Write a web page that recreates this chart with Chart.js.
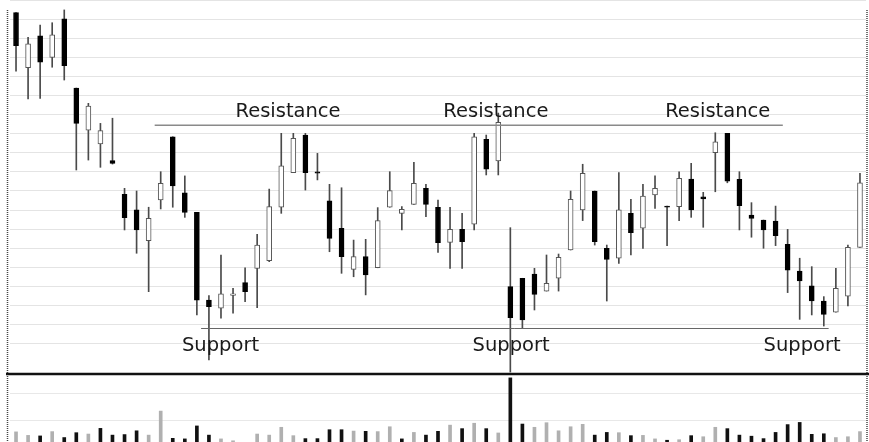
<!DOCTYPE html>
<html>
<head>
<meta charset="utf-8">
<title>Support and Resistance</title>
<script src="https://cdn.jsdelivr.net/npm/chart.js@4.4.1/dist/chart.umd.min.js"></script>
<style>
  html, body { margin: 0; padding: 0; background: #fff; overflow: hidden; }
  #wrap { position: relative; width: 869px; height: 442px; }
  #priceChart { position: absolute; left: 0; top: 0; }
  #volumeChart { position: absolute; left: 0; top: 376px; }
</style>
</head>
<body>
<div id="wrap">
  <canvas id="priceChart" width="869" height="376"></canvas>
  <canvas id="volumeChart" width="869" height="66"></canvas>
</div>
<script>
// Session numbers (x axis, not shown)
var days = [];
for (var d = 1; d <= 71; d++) { days.push(d); }

// Candles
var opens = [193.4, 164.6, 181.3, 170.0, 190.1, 153.9, 131.9, 124.6, 115.9, 98.3,
  90.1, 74.0, 95.3, 128.4, 99.1, 88.8, 42.9, 38.6, 45.3, 52.0,
  59.5, 63.5, 91.5, 109.6, 129.3, 110.1, 94.8, 80.5, 59.0, 65.6,
  59.8, 91.5, 88.3, 93.0, 101.4, 91.5, 73.1, 79.9, 82.6, 127.1,
  115.7, 49.9, 54.3, 56.5, 47.6, 54.3, 69.1, 90.1, 100.0, 70.0,
  64.8, 88.3, 80.5, 97.9, 92.1, 91.8, 106.3, 97.0, 120.1, 130.2,
  106.1, 87.4, 84.8, 84.3, 72.1, 58.1, 50.3, 42.4, 36.5, 45.0,
  70.5];
var highs = [193.4, 180.5, 186.9, 188.1, 194.8, 153.9, 145.9, 135.4, 138.1, 101.4,
  100.0, 91.5, 110.1, 128.4, 107.9, 88.8, 45.2, 66.5, 49.1, 59.8,
  77.3, 101.0, 130.2, 130.2, 130.2, 119.7, 103.5, 101.7, 74.3, 74.7,
  91.3, 110.1, 91.8, 115.0, 103.5, 95.3, 91.5, 88.3, 130.2, 129.3,
  140.8, 80.8, 54.3, 59.5, 66.5, 67.0, 100.0, 114.0, 100.0, 71.7,
  109.6, 95.7, 103.5, 108.0, 92.1, 110.1, 114.5, 99.3, 130.5, 130.2,
  110.1, 93.9, 84.8, 92.1, 79.9, 64.8, 60.4, 44.7, 59.5, 71.7,
  109.3];
var lows = [162.8, 148.2, 148.5, 164.8, 158.1, 111.0, 116.2, 112.4, 114.1, 79.6,
  67.4, 47.3, 90.6, 91.5, 86.2, 35.1, 11.5, 33.4, 36.0, 42.0,
  38.9, 63.0, 88.3, 109.6, 100.5, 105.8, 68.2, 56.9, 55.1, 45.6,
  59.8, 91.5, 79.6, 93.0, 86.5, 67.9, 59.5, 59.5, 79.6, 108.4,
  108.4, 5.2, 28.1, 37.7, 47.6, 47.6, 69.1, 84.5, 71.7, 42.4,
  62.1, 66.5, 70.0, 90.9, 71.4, 84.5, 86.2, 81.0, 99.6, 104.3,
  79.6, 75.8, 70.0, 71.4, 46.8, 32.8, 35.1, 29.3, 36.5, 39.8,
  70.5];
var closes = [176.1, 177.0, 167.5, 181.8, 165.6, 135.4, 144.5, 131.6, 114.5, 86.0,
  79.6, 85.7, 104.0, 102.6, 88.8, 42.9, 39.4, 46.1, 46.2, 47.3,
  71.7, 91.8, 113.2, 127.6, 109.6, 109.3, 75.2, 65.6, 65.6, 56.0,
  84.5, 100.2, 90.4, 104.0, 93.0, 72.9, 79.9, 73.5, 128.4, 111.4,
  136.0, 33.7, 32.5, 45.9, 51.7, 65.3, 95.7, 109.3, 73.5, 64.2,
  90.1, 78.2, 97.4, 101.4, 91.5, 106.6, 90.1, 95.8, 125.8, 105.2,
  92.3, 85.7, 79.6, 76.6, 58.6, 52.9, 42.4, 35.4, 49.1, 70.5,
  104.3];
var volumes = [5.6, 4.3, 4.1, 5.7, 3.5, 5.3, 4.8, 6.9, 4.4, 4.6,
  6.0, 4.4, 13.3, 3.2, 3.0, 7.8, 4.4, 3.0, 2.3, 1.5,
  4.8, 4.4, 7.3, 4.2, 3.1, 3.1, 6.4, 6.4, 5.9, 5.8,
  5.7, 7.5, 3.0, 5.4, 4.4, 5.8, 8.1, 6.8, 8.8, 6.8,
  5.2, 25.6, 8.5, 7.3, 9.0, 6.0, 7.5, 8.4, 4.4, 5.4,
  5.3, 4.2, 4.3, 3.0, 2.5, 2.7, 4.2, 3.8, 7.3, 6.8,
  4.4, 4.0, 3.1, 5.4, 8.3, 9.1, 4.7, 4.9, 3.5, 3.8,
  5.7];

// Support / resistance levels and where they run (session index)
var resistanceLevel = 134.4;
var resistanceFrom = 11.5, resistanceTo = 63.6;
var supportLevel = 28.3;
var supportFrom = 15.35, supportTo = 67.4;
var resistanceLabels = [22.56, 39.8, 58.2];
var supportLabels = [16.96, 41.06, 65.2];
var resistanceTextY = 139.0, supportTextY = 16.2;

// Candle helpers
function isDown(i) { return closes[i] < opens[i]; }
function volDown(i) { return i > 0 && closes[i] < closes[i - 1]; }

var bodies = opens.map(function (o, i) { return [o, closes[i]]; });
var wicks = lows.map(function (l, i) { return [l, highs[i]]; });

// Frame, separator and the support/resistance marks
var decor = {
  id: 'decor',
  afterDatasetsDraw: function (chart) {
    var ctx = chart.ctx, x = chart.scales.x, y = chart.scales.y, area = chart.chartArea;
    var isPrice = chart.canvas.id === 'priceChart';
    ctx.save();
    // dotted frame
    ctx.strokeStyle = '#444';
    ctx.lineWidth = 1.5;
    ctx.setLineDash([1, 1]);
    var top = isPrice ? 10 : 0;
    ctx.beginPath();
    ctx.moveTo(7.5, top); ctx.lineTo(7.5, area.bottom);
    ctx.moveTo(867, top); ctx.lineTo(867, area.bottom);
    ctx.stroke();
    ctx.setLineDash([]);
    if (isPrice) {
      // resistance
      ctx.strokeStyle = '#8a8a8a';
      ctx.lineWidth = 1.5;
      ctx.beginPath();
      ctx.moveTo(x.getPixelForValue(resistanceFrom), y.getPixelForValue(resistanceLevel));
      ctx.lineTo(x.getPixelForValue(resistanceTo), y.getPixelForValue(resistanceLevel));
      ctx.stroke();
      // support
      ctx.strokeStyle = '#666';
      ctx.lineWidth = 1;
      ctx.beginPath();
      ctx.moveTo(x.getPixelForValue(supportFrom), Math.round(y.getPixelForValue(supportLevel)) + 0.5);
      ctx.lineTo(x.getPixelForValue(supportTo), Math.round(y.getPixelForValue(supportLevel)) + 0.5);
      ctx.stroke();
      // labels
      ctx.fillStyle = '#1a1a1a';
      ctx.font = '19.5px "DejaVu Sans"';
      ctx.textAlign = 'center';
      ctx.textBaseline = 'alphabetic';
      resistanceLabels.forEach(function (p) {
        ctx.fillText('Resistance', x.getPixelForValue(p), y.getPixelForValue(resistanceTextY));
      });
      supportLabels.forEach(function (p) {
        ctx.fillText('Support', x.getPixelForValue(p), y.getPixelForValue(supportTextY));
      });
      // separator between price and volume
      ctx.strokeStyle = '#111';
      ctx.lineWidth = 2.5;
      ctx.beginPath();
      ctx.moveTo(6, 374); ctx.lineTo(869, 374);
      ctx.stroke();
    }
    ctx.restore();
  }
};

Chart.defaults.animation = false;

// Price pane
var ctxP = document.getElementById('priceChart').getContext('2d');
var priceChart = new Chart(ctxP, {
  type: 'bar',
  plugins: [decor],
  data: {
    labels: days,
    datasets: [{
      label: 'Body',
      data: bodies,
      grouped: false,
      barThickness: 5,
      borderSkipped: false,
      borderWidth: 1,
      backgroundColor: function (c) { return isDown(c.dataIndex) ? '#000' : '#fff'; },
      borderColor: function (c) { return isDown(c.dataIndex) ? '#000' : '#555'; },
      order: 0
    }, {
      label: 'Range',
      data: wicks,
      grouped: false,
      barThickness: 1,
      borderWidth: 0,
      backgroundColor: '#4a4a4a',
      order: 1
    }]
  },
  options: {
    responsive: false,
    devicePixelRatio: 1,
    layout: { padding: { left: 10, right: 3, top: 0, bottom: 3 } },
    plugins: { legend: { display: false }, tooltip: { enabled: false } },
    scales: {
      x: { type: 'category', display: false, offset: true },
      y: {
        min: 4.71,
        max: 200,
        ticks: { display: false, stepSize: 10 },
        border: { display: false },
        grid: {
          drawTicks: false,
          color: function (c) { return c.tick.value % 10 === 0 ? '#e4e4e4' : 'transparent'; }
        }
      }
    }
  }
});

// Volume pane
var ctxV = document.getElementById('volumeChart').getContext('2d');
var volumeChart = new Chart(ctxV, {
  type: 'bar',
  plugins: [decor],
  data: {
    labels: days,
    datasets: [{
      label: 'Volume',
      data: volumes,
      barThickness: 3,
      backgroundColor: function (c) { return volDown(c.dataIndex) ? '#111' : '#b0b0b0'; }
    }]
  },
  options: {
    responsive: false,
    devicePixelRatio: 1,
    layout: { padding: { left: 10, right: 3, top: 0, bottom: 0 } },
    plugins: { legend: { display: false }, tooltip: { enabled: false } },
    scales: {
      x: { type: 'category', display: false, offset: true },
      y: {
        min: 1.85,
        max: 26.3,
        ticks: { display: false, stepSize: 10 },
        border: { display: false },
        grid: {
          drawTicks: false,
          color: function (c) { return c.tick.value % 10 === 0 ? '#e8e8e8' : 'transparent'; }
        }
      }
    }
  }
});
</script>
</body>
</html>
